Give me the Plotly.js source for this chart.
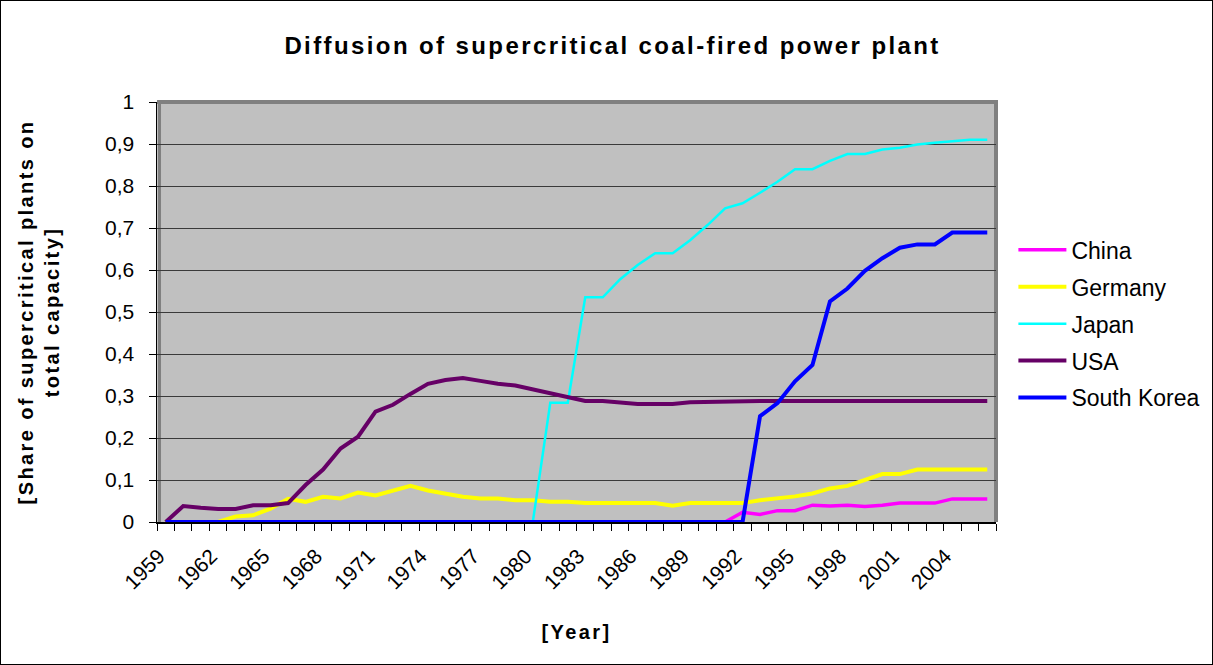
<!DOCTYPE html>
<html><head><meta charset="utf-8">
<script src="https://cdn.plot.ly/plotly-3.0.1.min.js"></script>
<style>html,body{margin:0;padding:0;background:#fff}#chart{width:1211px;height:663px;border:1px solid #000}
.gtitle{letter-spacing:2.4px}
.xtitle,.ytitle{letter-spacing:2.4px}
</style>
</head><body><div id="chart"></div><script>
var years = [1959,1960,1961,1962,1963,1964,1965,1966,1967,1968,1969,1970,1971,1972,1973,1974,1975,1976,1977,1978,1979,1980,1981,1982,1983,1984,1985,1986,1987,1988,1989,1990,1991,1992,1993,1994,1995,1996,1997,1998,1999,2000,2001,2002,2003,2004,2005,2006];
var tickYears = [1959,1962,1965,1968,1971,1974,1977,1980,1983,1986,1989,1992,1995,1998,2001,2004];
var tickLabels = ["1959","1962","1965","1968","1971","1974","1977","1980","1983","1986","1989","1992","1995","1998","2001","2004"];

var china = [0,0,0,0,0,0,0,0,0,0,0,0,0,0,0,0,0,0,0,0,0,0,0,0,0,0,0,0,0,0,0,0,0,
  0.023,0.018,0.027,0.027,0.040,0.038,0.040,0.037,0.040,0.045,0.045,0.045,0.055,0.055,0.055];
var germany = [0,0,0,0,0.013,0.016,0.032,0.055,0.048,0.060,0.056,0.070,0.063,0.074,0.086,0.075,
  0.068,0.060,0.056,0.056,0.052,0.052,0.048,0.048,0.045,0.045,0.045,0.045,0.045,0.039,0.045,0.045,
  0.045,0.045,0.052,0.056,0.061,0.068,0.080,0.086,0.100,0.114,0.114,0.125,0.125,0.125,0.125,0.125];
var japan = [0,0,0,0,0,0,0,0,0,0,0,0,0,0,0,0,0,0,0,0,0,0,
  0.284,0.284,0.535,0.535,0.578,0.612,0.640,0.640,0.671,0.707,0.747,0.759,0.784,0.810,0.840,0.840,
  0.860,0.876,0.876,0.887,0.891,0.899,0.903,0.906,0.910,0.910];
var usa = [0,0.038,0.034,0.031,0.031,0.040,0.040,0.045,0.088,0.125,0.175,0.203,0.263,0.279,0.305,0.329,
  0.338,0.343,0.336,0.329,0.325,0.316,0.305,0.297,0.288,0.288,0.285,0.281,0.281,0.281,0.285,0.286,
  0.288,0.288,0.288,0.288,0.288,0.288,0.288,0.288,0.288,0.288,0.288,0.288,0.288,0.288,0.288,0.288];
var southKorea = [0,0,0,0,0,0,0,0,0,0,0,0,0,0,0,0,0,0,0,0,0,0,0,0,0,0,0,0,0,0,0,0,0,0,
  0.252,0.283,0.335,0.374,0.525,0.556,0.598,0.628,0.653,0.661,0.661,0.689,0.689,0.689];

var seriesNames = ["China","Germany","Japan","USA","South Korea"];
var seriesData = [china, germany, japan, usa, southKorea];
var seriesColors = ["#FF00FF","#FFFF00","#00FFFF","#660066","#0000FF"];
var seriesWidths = [3.5, 4, 2.5, 4, 4];

var FONT = "Liberation Sans, Arial, sans-serif";
var traces = seriesNames.map(function(n, i){
  return {x: years, y: seriesData[i], name: n, type: 'scatter', mode: 'lines',
    line: {color: seriesColors[i], width: seriesWidths[i]}, cliponaxis: false,
    legendgroup: n};
});

// labels sit slightly left of the category centre, as in the Excel original
var labelPos = tickYears.map(function(y){ return y - 0.4; });

var layout = {
  width: 1211, height: 663, autosize: false,
  margin: {l: 156, r: 216, t: 101, b: 142},
  paper_bgcolor: '#fff', plot_bgcolor: '#C0C0C0',
  separators: ',.',
  font: {family: FONT, size: 21, color: '#000'},
  title: {text: 'Diffusion of supercritical coal-fired power plant', font: {family: FONT, size: 24, weight: 'bold', color: '#000'},
    xref: 'container', yref: 'container', x: 0.505, y: 0.933, xanchor: 'center', yanchor: 'middle'},
  xaxis: {range: [1958.5, 2006.5], autorange: false, tickvals: labelPos, ticktext: tickLabels, tickangle: -45,
    ticks: '', showgrid: false, zeroline: false, showline: true, linecolor: '#000', linewidth: 1.5,
    tickfont: {family: FONT, size: 21}, ticklabelstandoff: 12,
    minor: {tick0: 1958.5, dtick: 1, ticks: 'outside', ticklen: 7, tickcolor: '#000', tickwidth: 1, showgrid: false},
    title: {text: '[Year]', font: {family: FONT, size: 20, weight: 'bold'}, standoff: 32}},
  yaxis: {range: [0, 1], autorange: false, dtick: 0.1, tick0: 0, ticks: 'outside', ticklen: 7, tickcolor: '#000',
    showgrid: true, gridcolor: '#3a3a3a', gridwidth: 1, zeroline: false, showline: true, linecolor: '#000', linewidth: 1.5,
    tickfont: {family: FONT, size: 21}, ticklabelstandoff: 10,
    title: {text: '[Share of supercritical plants on<br>total capacity]', font: {family: FONT, size: 20, weight: 'bold'}, standoff: 40}},
  legend: {xref: 'container', yref: 'container', x: 0.836, y: 0.513, xanchor: 'left', yanchor: 'middle', font: {family: FONT, size: 23},
    bgcolor: 'rgba(0,0,0,0)', tracegroupgap: 4, traceorder: 'grouped', itemwidth: 48},
  shapes: [
    {type: 'path', xref: 'paper', yref: 'paper', path: 'M 0 1 L 1 1 L 1 0', line: {color: '#808080', width: 4}, layer: 'below'},
    {type: 'line', xref: 'paper', yref: 'paper', x0: 0.003, x1: 0.003, y0: 0, y1: 1, line: {color: '#808080', width: 3}, layer: 'below'}
  ],
  showlegend: true
};
Plotly.newPlot('chart', traces, layout, {displayModeBar: false, staticPlot: true});
</script></body></html>
